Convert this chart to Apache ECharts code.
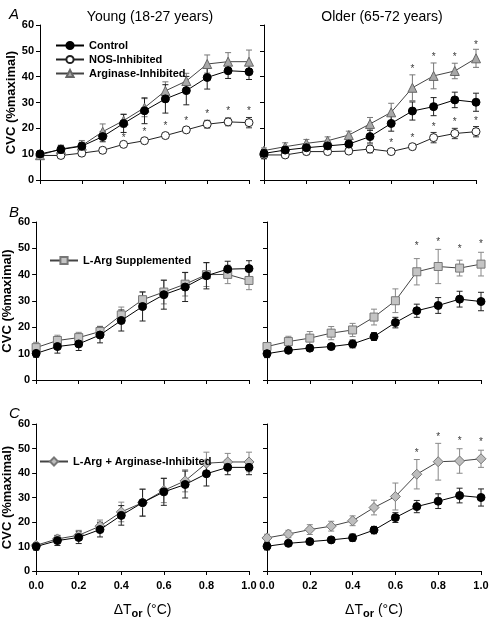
<!DOCTYPE html>
<html>
<head>
<meta charset="utf-8">
<script src="https://cdn.jsdelivr.net/npm/echarts@6/dist/echarts.min.js"></script>
<style>html,body{margin:0;padding:0;background:#fff;}#c{width:492px;height:620px;}</style>
</head>
<body>
<div id="c"></div>
<script>
// ---- data ----
var xs = [0, 0.1, 0.2, 0.3, 0.4, 0.5, 0.6, 0.7, 0.8, 0.9, 1.0];
var xTicks = [0, 0.2, 0.4, 0.6, 0.8, 1.0];
var yTicks = [0, 10, 20, 30, 40, 50, 60];

// Panel A – Young
var aYoungControl   = [10.1, 11.8, 13.1, 16.8, 21.9, 26.8, 31.4, 34.6, 39.7, 42.3, 41.9];
var aYoungControlSE = [1, 1.5, 1.5, 2, 3.5, 5, 5.5, 5.5, 4.5, 3, 3];
var aYoungNOS       = [9.5, 9.5, 10.4, 11.5, 13.8, 15.2, 17.2, 19.4, 21.6, 22.5, 22.2];
var aYoungNOSSE     = [1, 1, 1, 1, 0.8, 0.8, 0.8, 1, 1.5, 1.5, 2];
var aYoungArg       = [9.6, 12, 13.3, 18.7, 23, 28, 34.5, 38.3, 44.9, 45.8, 45.8];
var aYoungArgSE     = [1, 1.5, 2, 3, 2.5, 3.5, 3.5, 3, 3.5, 3.5, 4.5];
var aYoungStars     = [[0.4, 17.4], [0.5, 19.7], [0.6, 22.1], [0.7, 24], [0.8, 26.7], [0.9, 27.9], [1.0, 27.9]];
// Panel A – Older
var aOlderControl   = [10.3, 11.6, 12.5, 13.2, 13.9, 16.8, 21.9, 26.7, 28.4, 31, 30.1];
var aOlderControlSE = [1.5, 1.2, 1.5, 1.5, 1.5, 2.5, 3, 3.5, 3.5, 3, 3.5];
var aOlderNOS       = [9.7, 9.7, 11, 11, 11.2, 12, 11, 12.9, 16.4, 18, 18.7];
var aOlderNOSSE     = [1.5, 1, 1.2, 1, 1, 1.5, 0.8, 1, 2, 2, 2];
var aOlderArg       = [11.4, 12.9, 14.2, 15.2, 17.4, 21.7, 26.2, 35.7, 40.3, 42.2, 47.1];
var aOlderArgSE     = [1, 1.5, 1.5, 1.5, 1.5, 2.5, 3.5, 5, 5, 3, 3.5];
var aOlderArgStars  = [[0.7, 43.9], [0.8, 48.6], [0.9, 48.6], [1.0, 53.5]];
var aOlderNOSStars  = [[0.6, 15.5], [0.7, 17.2], [0.8, 21.7], [0.9, 23.5], [1.0, 23.9]];

// Panel B – Young
var bYoungControl   = [10.1, 12.7, 13.7, 17.1, 22.6, 27.9, 32.4, 35.3, 39.6, 42.1, 42.3];
var bYoungControlSE = [1.5, 2.5, 2.5, 3, 4, 5.5, 5.5, 5.5, 5, 3, 3];
var bYoungLArg      = [12.3, 15, 16.1, 18.4, 24.7, 30.5, 33.4, 36.4, 40, 40.1, 37.8];
var bYoungLArgSE    = [2, 2, 2, 2, 3, 3, 4.5, 4.5, 4.5, 3.5, 3.5];
// Panel B – Older
var bOlderControl   = [10, 11.3, 12.1, 12.7, 13.7, 16.5, 21.8, 26.3, 28.3, 30.7, 29.8];
var bOlderControlSE = [1.5, 1, 1, 1, 1.5, 1.5, 2, 2.5, 3, 3, 3.5];
var bOlderLArg      = [12.7, 14.6, 15.9, 17.8, 19, 23.9, 30.1, 41.1, 43.1, 42.5, 44];
var bOlderLArgSE    = [1.5, 2, 2.5, 2.5, 2.5, 3, 4.5, 5, 6.5, 3, 4.5];
var bOlderStars     = [[0.7, 52], [0.8, 53.3], [0.9, 50.8], [1.0, 52.7]];

// Panel C – Young
var cYoungControl   = [10, 12.4, 13.7, 16.9, 22.7, 27.9, 32.3, 35.3, 39.7, 42.3, 42.3];
var cYoungControlSE = [1.5, 2, 2.5, 3, 4, 5.5, 5.5, 5.5, 5, 3, 3];
var cYoungDia       = [10.5, 13.1, 14.6, 18.3, 24.1, 27.9, 32.9, 36.8, 44, 44.5, 44.5];
var cYoungDiaSE     = [1, 1.5, 2, 2.5, 4, 5.5, 5, 4.5, 4.5, 3.5, 4];
// Panel C – Older
var cOlderControl   = [10.1, 11.3, 12, 12.7, 13.6, 16.7, 21.8, 26.3, 28.5, 30.8, 30];
var cOlderControlSE = [1.5, 1, 1, 1, 1.5, 1.5, 2, 2.5, 3, 3, 3.5];
var cOlderDia       = [13.5, 15.1, 16.9, 18.3, 20.5, 25.9, 30.4, 39.5, 44.6, 44.9, 45.8];
var cOlderDiaSE     = [1.5, 1.5, 2, 2, 2, 3, 5.5, 6, 7.5, 5, 3.5];
var cOlderStars     = [[0.7, 49.4], [0.8, 55.8], [0.9, 54.2], [1.0, 53.8]];

// ---- styles ----
var FONT = 'Liberation Sans, Arial, Helvetica, sans-serif';
var STY = {
  control: {name: 'Control', symbol: 'circle', size: 8, fill: '#000', border: '#000', line: '#000', err: '#222'},
  nos:     {name: 'NOS-Inhibited', symbol: 'circle', size: 8, fill: '#fff', border: '#222', line: '#222', err: '#333'},
  arg:     {name: 'Arginase-Inhibited', symbol: 'triangle', size: 9, fill: '#a8a8a8', border: '#666', line: '#444', err: '#777'},
  larg:    {name: 'L-Arg Supplemented', symbol: 'rect', size: 8, fill: '#c4c4c4', border: '#777', line: '#444', err: '#888'},
  dia:     {name: 'L-Arg + Arginase-Inhibited', symbol: 'diamond', size: 10, fill: '#bdbdbd', border: '#777', line: '#444', err: '#888'}
};

var grids = [
  {left: 40,  top: 25,  width: 209, height: 155},
  {left: 264, top: 25,  width: 212, height: 155},
  {left: 34,  top: 222, width: 215, height: 158},
  {left: 267, top: 222, width: 214, height: 158},
  {left: 34,  top: 424, width: 215, height: 156},
  {left: 267, top: 424, width: 214, height: 156}
];

var xAxes = [], yAxes = [], series = [];
grids.forEach(function (g, i) {
  var bottom = i >= 4;
  var left = i % 2 === 0;
  xAxes.push({
    type: 'value', gridIndex: i, min: 0, max: 1.0, interval: 0.2,
    axisLine: {show: true, lineStyle: {color: '#000', width: 1}},
    axisTick: {show: true, length: 4, inside: false, lineStyle: {color: '#000'}, customValues: xTicks},
    axisLabel: {show: bottom, customValues: xTicks, color: '#000', fontFamily: FONT, fontWeight: 'bold', fontSize: 11, margin: 9,
      formatter: function (v) { return v.toFixed(1); }},
    splitLine: {show: false},
    name: bottom ? '{a|ΔT}{b|or}{a| (°C)}' : '',
    nameLocation: 'middle', nameGap: 31,
    nameTextStyle: {rich: {
      a: {fontFamily: FONT, fontSize: 14, color: '#000'},
      b: {fontFamily: FONT, fontSize: 11, fontWeight: 'bold', color: '#000', padding: [6, 0, 0, 0]}
    }}
  });
  yAxes.push({
    type: 'value', gridIndex: i, min: 0, max: 60, interval: 10,
    axisLine: {show: true, lineStyle: {color: '#000', width: 1}},
    axisTick: {show: true, length: 4, inside: false, lineStyle: {color: '#000'}},
    axisLabel: {show: left, color: '#000', fontFamily: FONT, fontWeight: 'bold', fontSize: 11, margin: 6},
    splitLine: {show: false},
    name: left ? 'CVC (%maximal)' : '',
    nameLocation: 'middle', nameGap: i === 0 ? 21 : 20,
    nameTextStyle: {fontFamily: FONT, fontWeight: 'bold', fontSize: 13, color: '#000'}
  });
});

function pairs(vals) { return xs.map(function (x, k) { return [x, vals[k]]; }); }
function errs(vals, se) { return xs.map(function (x, k) { return [x, vals[k] - se[k], vals[k] + se[k]]; }); }

function addErr(idx, vals, se, st) {
  series.push({
    type: 'custom', xAxisIndex: idx, yAxisIndex: idx, z: 1, silent: true,
    data: errs(vals, se),
    encode: {x: 0, y: [1, 2]},
    renderItem: function (params, api) {
      var lo = api.coord([api.value(0), api.value(1)]);
      var hi = api.coord([api.value(0), api.value(2)]);
      var w = 3;
      var ls = {stroke: st.err, lineWidth: 1};
      return {type: 'group', children: [
        {type: 'line', shape: {x1: lo[0], y1: lo[1], x2: hi[0], y2: hi[1]}, style: ls},
        {type: 'line', shape: {x1: lo[0] - w, y1: lo[1], x2: lo[0] + w, y2: lo[1]}, style: ls},
        {type: 'line', shape: {x1: hi[0] - w, y1: hi[1], x2: hi[0] + w, y2: hi[1]}, style: ls}
      ]};
    }
  });
}
function addLine(idx, vals, st, z) {
  series.push({
    type: 'line', name: st.name, xAxisIndex: idx, yAxisIndex: idx, z: z || 3,
    data: pairs(vals), symbol: st.symbol, symbolSize: st.size, showSymbol: true,
    lineStyle: {color: st.line, width: 1},
    itemStyle: {color: st.fill, borderColor: st.border, borderWidth: 1},
    emphasis: {disabled: true}, animation: false
  });
}
function addStars(idx, pts) {
  series.push({
    type: 'scatter', xAxisIndex: idx, yAxisIndex: idx, z: 5, silent: true,
    data: pts, symbolSize: 1, itemStyle: {color: 'rgba(0,0,0,0)'},
    label: {show: true, position: 'inside', formatter: '*', color: '#000', fontFamily: FONT, fontSize: 10, offset: [0, 3]},
    animation: false
  });
}
function panel(idx, list) {
  list.forEach(function (e) { addErr(idx, e[0], e[1], e[2]); });
  list.forEach(function (e, k) { addLine(idx, e[0], e[2], 3 + k); });
}

panel(0, [[aYoungNOS, aYoungNOSSE, STY.nos], [aYoungArg, aYoungArgSE, STY.arg], [aYoungControl, aYoungControlSE, STY.control]]);
addStars(0, aYoungStars);
panel(1, [[aOlderNOS, aOlderNOSSE, STY.nos], [aOlderArg, aOlderArgSE, STY.arg], [aOlderControl, aOlderControlSE, STY.control]]);
addStars(1, aOlderArgStars); addStars(1, aOlderNOSStars);
panel(2, [[bYoungLArg, bYoungLArgSE, STY.larg], [bYoungControl, bYoungControlSE, STY.control]]);
panel(3, [[bOlderLArg, bOlderLArgSE, STY.larg], [bOlderControl, bOlderControlSE, STY.control]]);
addStars(3, bOlderStars);
panel(4, [[cYoungDia, cYoungDiaSE, STY.dia], [cYoungControl, cYoungControlSE, STY.control]]);
panel(5, [[cOlderDia, cOlderDiaSE, STY.dia], [cOlderControl, cOlderControlSE, STY.control]]);
addStars(5, cOlderStars);

var legendText = {fontFamily: FONT, fontWeight: 'bold', fontSize: 11, color: '#000'};
var option = {
  backgroundColor: '#fff',
  animation: false,
  grid: grids,
  xAxis: xAxes,
  yAxis: yAxes,
  title: [
    {text: 'Young (18-27 years)', left: 145, top: 5, textAlign: 'center', textStyle: {fontFamily: FONT, fontWeight: 'normal', fontSize: 14, color: '#000'}},
    {text: 'Older (65-72 years)', left: 377, top: 5, textAlign: 'center', textStyle: {fontFamily: FONT, fontWeight: 'normal', fontSize: 14, color: '#000'}},
    {text: 'A', left: 4, top: 2, textStyle: {fontFamily: FONT, fontStyle: 'italic', fontWeight: 'normal', fontSize: 15, color: '#000'}},
    {text: 'B', left: 4, top: 200, textStyle: {fontFamily: FONT, fontStyle: 'italic', fontWeight: 'normal', fontSize: 15, color: '#000'}},
    {text: 'C', left: 4, top: 401, textStyle: {fontFamily: FONT, fontStyle: 'italic', fontWeight: 'normal', fontSize: 15, color: '#000'}}
  ],
  legend: [
    {data: ['Control', 'NOS-Inhibited', 'Arginase-Inhibited'], orient: 'vertical', left: 50, top: 35, itemGap: 3,
      itemWidth: 28, itemHeight: 9, textStyle: legendText, selectedMode: false},
    {data: ['L-Arg Supplemented'], orient: 'vertical', left: 44, top: 250, itemWidth: 28, itemHeight: 9,
      textStyle: legendText, selectedMode: false},
    {data: ['L-Arg + Arginase-Inhibited'], orient: 'vertical', left: 34, top: 451, itemWidth: 28, itemHeight: 10,
      itemGap: 2, textStyle: legendText, selectedMode: false}
  ],
  series: series
};
var chart = echarts.init(document.getElementById('c'), null, {renderer: 'canvas'});
chart.setOption(option);
</script>
</body>
</html>
